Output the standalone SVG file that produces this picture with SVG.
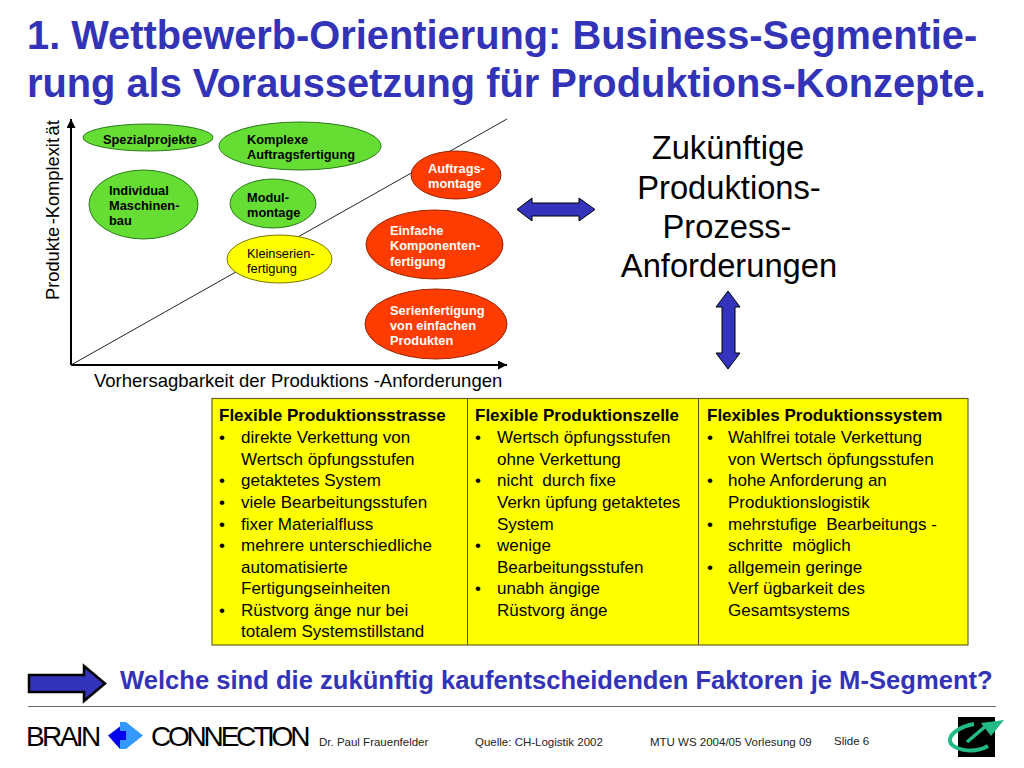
<svg xmlns="http://www.w3.org/2000/svg" width="1024" height="768" viewBox="0 0 1024 768">
<style>
text{font-family:"Liberation Sans",Arial,sans-serif;fill:#000}
.title{font-size:39.800px;font-weight:bold;fill:#3333b8}
.b{font-size:12.800px;font-weight:bold}
.w{font-size:12.800px;font-weight:bold;fill:#fff}
.r{font-size:12.800px}
.ax{font-size:18.500px}
.big{font-size:32.700px;text-anchor:middle}
.th{font-size:17px;font-weight:bold}
.td{font-size:17px}
.ft{font-size:11.500px;fill:#222}
.q{font-size:25.600px;font-weight:bold;fill:#3333b8}
.logo{font-size:28px;letter-spacing:-2.600px}
.green{fill:#66dd33;stroke:#2a7a1a;stroke-width:1}
.red{fill:#ff3c00;stroke:#992200;stroke-width:1}
.yel{fill:#ffff00;stroke:#777700;stroke-width:1}
.arrow{fill:#3333bb;stroke:#000;stroke-width:1}
.axis{stroke:#000;stroke-width:2;fill:none}
</style>
<defs>
<marker id="ah" markerUnits="userSpaceOnUse" markerWidth="10" markerHeight="10" refX="9" refY="4.500" orient="auto"><path d="M0 0L9 4.500L0 9z" fill="#000"/></marker>
</defs>
<g id="title">
<text class="title" x="27" y="49">1. Wettbewerb-Orientierung: Business-Segmentie-</text>
<text class="title" x="27" y="97">rung als Voraussetzung für Produktions-Konzepte.</text>
</g>
<g id="connectors">
<path d="M71 365L507 119" stroke="#222" stroke-width="1" fill="none"/>
<path class="axis" d="M71 365V119" marker-end="url(#ah)"/>
<path class="axis" d="M71 365H507" marker-end="url(#ah)"/>
<path id="arrow-h" class="arrow" d="M517 209.500L532 198V203H579V198L595 209.500L579 221V216H532V221Z"/>
<path id="arrow-v" class="arrow" d="M728 291L740 307H735V353H740L728 369L716 353H722V307H716Z"/>
<path id="arrow-q" d="M29 675H84V666L105 683.500L84 701V692H29Z" fill="#3333bb" stroke="#000" stroke-width="2.500"/>
</g>
<g id="axis-labels">
<text class="ax" style="font-size:18.300px;word-spacing:-2.600px" transform="translate(59 300) rotate(-90)">Produkte -Komplexit ät</text>
<text class="ax" x="94" y="387">Vorhersagbarkeit der Produktions -Anforderungen</text>
</g>
<g id="n-spezial"><ellipse class="green" cx="148" cy="137.500" rx="65" ry="13.500"/><text class="b" x="103" y="144">Spezialprojekte</text></g>
<g id="n-komplex"><ellipse class="green" cx="300" cy="146" rx="81" ry="24"/><text class="b" x="247" y="144">Komplexe</text><text class="b" x="247" y="159">Auftragsfertigung</text></g>
<g id="n-individual"><ellipse class="green" cx="143.500" cy="204.500" rx="54.500" ry="34.500"/><text class="b" x="109" y="195">Individual</text><text class="b" x="109" y="210">Maschinen-</text><text class="b" x="109" y="225">bau</text></g>
<g id="n-modul"><ellipse class="green" cx="273" cy="203.500" rx="43" ry="24.500"/><text class="b" x="247" y="202">Modul-</text><text class="b" x="247" y="217">montage</text></g>
<g id="n-klein"><ellipse class="yel" cx="279.500" cy="259" rx="52.500" ry="24"/><text class="r" x="247" y="258">Kleinserien-</text><text class="r" x="247" y="273">fertigung</text></g>
<g id="n-auftrags"><ellipse class="red" cx="456" cy="175" rx="45" ry="24"/><text class="w" x="428" y="173">Auftrags-</text><text class="w" x="428" y="188">montage</text></g>
<g id="n-einfach"><ellipse class="red" cx="434.500" cy="244.500" rx="68.500" ry="34.500"/><text class="w" x="390" y="235">Einfache</text><text class="w" x="390" y="250">Komponenten-</text><text class="w" x="390" y="266">fertigung</text></g>
<g id="n-serien"><ellipse class="red" cx="436" cy="324" rx="71" ry="35"/><text class="w" x="390" y="315">Serienfertigung</text><text class="w" x="390" y="330">von einfachen</text><text class="w" x="390" y="345">Produkten</text></g>
<g id="n-zukunft">
<text class="big" x="728" y="159">Zukünftige</text>
<text class="big" x="729" y="199">Produktions-</text>
<text class="big" x="727" y="238">Prozess-</text>
<text class="big" x="729" y="277">Anforderungen</text>
</g>
<g id="n-table">
<rect x="212" y="398.500" width="756" height="246.500" fill="#ffff00" stroke="#666622" stroke-width="1.200"/>
<path d="M467.500 398.500V645M698.500 398.500V645" stroke="#555522" stroke-width="1" fill="none"/>
<g id="col1">
<text class="th" x="219" y="421">Flexible Produktionsstrasse</text>
<text class="td" x="219" y="443">•</text><text class="td" x="241" y="443">direkte Verkettung von</text>
<text class="td" x="241" y="465">Wertsch öpfungsstufen</text>
<text class="td" x="219" y="486">•</text><text class="td" x="241" y="486">getaktetes System</text>
<text class="td" x="219" y="508">•</text><text class="td" x="241" y="508">viele Bearbeitungsstufen</text>
<text class="td" x="219" y="530">•</text><text class="td" x="241" y="530">fixer Materialfluss</text>
<text class="td" x="219" y="551">•</text><text class="td" x="241" y="551">mehrere unterschiedliche</text>
<text class="td" x="241" y="573">automatisierte</text>
<text class="td" x="241" y="594">Fertigungseinheiten</text>
<text class="td" x="219" y="616">•</text><text class="td" x="241" y="616">Rüstvorg änge nur bei</text>
<text class="td" x="241" y="637">totalem Systemstillstand</text>
</g>
<g id="col2">
<text class="th" x="475" y="421">Flexible Produktionszelle</text>
<text class="td" x="475" y="443">•</text><text class="td" x="497" y="443">Wertsch öpfungsstufen</text>
<text class="td" x="497" y="465">ohne Verkettung</text>
<text class="td" x="475" y="486">•</text><text class="td" x="497" y="486" xml:space="preserve">nicht  durch fixe</text>
<text class="td" x="497" y="508">Verkn üpfung getaktetes</text>
<text class="td" x="497" y="530">System</text>
<text class="td" x="475" y="551">•</text><text class="td" x="497" y="551">wenige</text>
<text class="td" x="497" y="573">Bearbeitungsstufen</text>
<text class="td" x="475" y="594">•</text><text class="td" x="497" y="594">unabh ängige</text>
<text class="td" x="497" y="616">Rüstvorg änge</text>
</g>
<g id="col3">
<text class="th" x="707" y="421">Flexibles Produktionssystem</text>
<text class="td" x="707" y="443">•</text><text class="td" x="728" y="443">Wahlfrei totale Verkettung</text>
<text class="td" x="728" y="465">von Wertsch öpfungsstufen</text>
<text class="td" x="707" y="486">•</text><text class="td" x="728" y="486">hohe Anforderung an</text>
<text class="td" x="728" y="508">Produktionslogistik</text>
<text class="td" x="707" y="530">•</text><text class="td" x="728" y="530" xml:space="preserve">mehrstufige  Bearbeitungs -</text>
<text class="td" x="728" y="551" xml:space="preserve">schritte  möglich</text>
<text class="td" x="707" y="573">•</text><text class="td" x="728" y="573">allgemein geringe</text>
<text class="td" x="728" y="594">Verf ügbarkeit des</text>
<text class="td" x="728" y="616">Gesamtsystems</text>
</g>
</g>
<g id="n-question"><text class="q" x="120" y="689">Welche sind die zukünftig kaufentscheidenden Faktoren je M-Segment?</text></g>
<g id="footer">
<path d="M28 706.500H996" stroke="#666" stroke-width="1"/>
<text class="logo" x="26" y="746">BRAIN</text>
<path d="M126 722L108 735.500L120 749V740H126V731H120Z" fill="#0000ee"/>
<path d="M120 722L126 722L143 735.500L126 749H120V740H126V731H120Z" fill="#3399ff"/>
<text class="logo" style="letter-spacing:-3.200px" x="151" y="746">CONNECTION</text>
<text class="ft" x="319" y="746">Dr. Paul Frauenfelder</text>
<text class="ft" x="475" y="746">Quelle: CH-Logistik 2002</text>
<text class="ft" x="650" y="746">MTU WS 2004/05 Vorlesung 09</text>
<text class="ft" x="834" y="745">Slide 6</text>
<rect x="958" y="717" width="37" height="40" fill="#000"/>
<path d="M974 724C958 727 949 735 950 741C951 749 972 755 988 746" fill="none" stroke="#22bb88" stroke-width="4"/>
<path d="M967 742L987 725" fill="none" stroke="#22bb88" stroke-width="3.500"/>
<path d="M981 723L1004 720L991 736Z" fill="#22bb88"/>
</g>
</svg>
